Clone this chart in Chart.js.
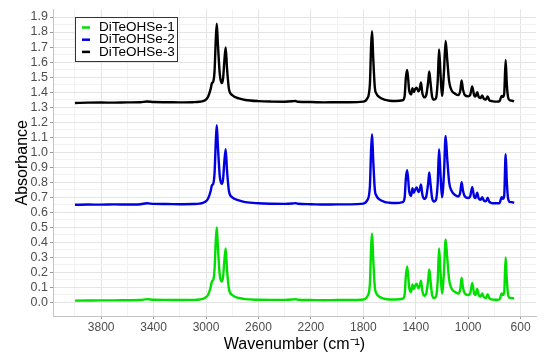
<!DOCTYPE html>
<html>
<head>
<meta charset="utf-8">
<script src="https://cdn.jsdelivr.net/npm/chart.js@4"></script>
<style>
  html, body { margin: 0; padding: 0; background: #fff; }
  canvas { display: block; }
</style>
</head>
<body>
<canvas id="myChart" width="550" height="361"></canvas>
<script>
// wavenumber grid (cm-1)
const wavenumbers = [
    4000, 3900, 3800, 3700, 3600, 3500, 3450, 3400, 3300, 3200,
    3100, 3050, 3010, 2985, 2965, 2955, 2945, 2935, 2925, 2918,
    2910, 2895, 2880, 2870, 2860, 2850, 2840, 2825, 2800, 2750,
    2700, 2600, 2500, 2400, 2340, 2320, 2300, 2200, 2100, 2000,
    1900, 1800, 1770, 1750, 1740, 1733, 1725, 1712, 1700, 1680,
    1640, 1600, 1550, 1500, 1485, 1475, 1465, 1450, 1435, 1425,
    1415, 1405, 1393, 1380, 1370, 1360, 1350, 1335, 1320, 1305,
    1297, 1288, 1275, 1260, 1245, 1232, 1222, 1212, 1200, 1185,
    1172, 1160, 1145, 1125, 1100, 1075, 1060, 1050, 1040, 1025,
    1000, 985, 969, 955, 945, 931, 920, 905, 893, 880,
    865, 851, 840, 820, 800, 780, 760, 745, 735, 725,
    714, 705, 695, 680, 665, 650
];

const seriesNames = ['DiTeOHSe-1', 'DiTeOHSe-2', 'DiTeOHSe-3'];

const absorbance1 = [
    .012, .013, .014, .014, .015, .016, .022, .018, .017, .016,
    .017, .020, .030, .050, .100, .140, .150, .220, .420, .500,
    .380, .180, .140, .170, .280, .360, .220, .090, .050, .030,
    .022, .018, .017, .017, .020, .022, .018, .016, .015, .016,
    .016, .020, .040, .120, .380, .460, .300, .100, .060, .040,
    .025, .020, .020, .025, .050, .180, .240, .100, .070, .120,
    .090, .110, .125, .095, .110, .145, .080, .045, .060, .150,
    .220, .150, .050, .030, .040, .150, .360, .220, .060, .200,
    .420, .300, .150, .090, .070, .060, .090, .165, .100, .060,
    .050, .060, .130, .060, .050, .090, .050, .040, .060, .035,
    .030, .055, .030, .020, .018, .018, .020, .060, .050, .070,
    .300, .150, .050, .030, .030, .025
];

const absorbance2 = [
    .650, .652, .651, .653, .652, .654, .660, .656, .655, .654,
    .655, .658, .668, .690, .740, .780, .790, .860, 1.080, 1.180,
    1.050, .840, .790, .820, .940, 1.020, .880, .740, .700, .680,
    .668, .660, .657, .656, .659, .661, .657, .654, .652, .653,
    .653, .658, .680, .770, 1.030, 1.120, .960, .750, .710, .688,
    .670, .664, .662, .668, .695, .830, .880, .740, .710, .760,
    .730, .750, .765, .735, .750, .785, .720, .690, .705, .795,
    .866, .795, .695, .672, .685, .800, 1.020, .870, .700, .850,
    1.108, .960, .800, .740, .715, .705, .735, .800, .745, .705,
    .695, .705, .767, .705, .695, .730, .693, .684, .700, .678,
    .673, .697, .672, .662, .660, .660, .662, .700, .690, .712,
    .987, .800, .690, .668, .668, .662
];

const absorbance3 = [
    1.328, 1.330, 1.331, 1.330, 1.332, 1.333, 1.338, 1.334, 1.333, 1.332,
    1.333, 1.336, 1.345, 1.368, 1.420, 1.460, 1.470, 1.540, 1.760, 1.855,
    1.730, 1.520, 1.460, 1.490, 1.610, 1.697, 1.560, 1.420, 1.380, 1.358,
    1.348, 1.340, 1.337, 1.336, 1.339, 1.341, 1.336, 1.334, 1.332, 1.333,
    1.333, 1.337, 1.358, 1.450, 1.720, 1.805, 1.640, 1.430, 1.390, 1.368,
    1.350, 1.343, 1.341, 1.346, 1.372, 1.500, 1.548, 1.410, 1.385, 1.427,
    1.400, 1.420, 1.430, 1.405, 1.420, 1.464, 1.395, 1.365, 1.380, 1.470,
    1.537, 1.470, 1.370, 1.350, 1.360, 1.480, 1.684, 1.540, 1.375, 1.530,
    1.741, 1.620, 1.470, 1.410, 1.390, 1.380, 1.410, 1.478, 1.420, 1.380,
    1.372, 1.380, 1.438, 1.380, 1.370, 1.400, 1.368, 1.360, 1.378, 1.355,
    1.350, 1.372, 1.348, 1.340, 1.337, 1.337, 1.340, 1.375, 1.368, 1.390,
    1.614, 1.450, 1.365, 1.345, 1.343, 1.338
];

// gridlines: majors get labels, minors are lighter
const xGridValues = [600, 800, 1000, 1200, 1400, 1600, 1800, 2000, 2200, 2400,
    2600, 2800, 3000, 3200, 3400, 3600, 3800, 4000];
const xLabelValues = [600, 1000, 1400, 1800, 2200, 2600, 3000, 3400, 3800];
const yGridValues = [0, 0.05, 0.1, 0.15, 0.2, 0.25, 0.3, 0.35, 0.4, 0.45, 0.5, 0.55,
    0.6, 0.65, 0.7, 0.75, 0.8, 0.85, 0.9, 0.95, 1.0, 1.05, 1.1, 1.15, 1.2, 1.25,
    1.3, 1.35, 1.4, 1.45, 1.5, 1.55, 1.6, 1.65, 1.7, 1.75, 1.8, 1.85, 1.9];

const colors = ['#00e000', '#0000e0', '#000000'];

Chart.defaults.font.family = '"Liberation Sans", Arial, sans-serif';

const toPoints = arr => wavenumbers.map((w, i) => ({ x: w, y: arr[i] }));

const isMajorY = v => Math.abs(Math.round(v * 10) - v * 10) < 1e-6;
const isMajorX = v => xLabelValues.includes(v);

// legend inside the panel, top-left
const insideLegend = {
    id: 'insideLegend',
    afterDatasetsDraw(chart) {
        const c = chart.ctx;
        const bx = 75.5, by = 17.5, bw = 102, bh = 44;
        c.save();
        c.fillStyle = '#fff';
        c.fillRect(bx, by, bw, bh);
        c.strokeStyle = '#333';
        c.lineWidth = 1;
        c.strokeRect(bx, by, bw, bh);
        c.font = '13.5px "Liberation Sans", Arial, sans-serif';
        c.textBaseline = 'middle';
        chart.data.datasets.forEach((ds, i) => {
            const y = 27.5 + i * 12.2;
            c.strokeStyle = ds.borderColor;
            c.lineWidth = 2.5;
            c.beginPath();
            c.moveTo(82, y);
            c.lineTo(90, y);
            c.stroke();
            c.fillStyle = '#000';
            c.fillText(ds.label, 99, y);
        });
        c.restore();
    }
};

const ctx = document.getElementById('myChart');

new Chart(ctx, {
    type: 'line',
    data: {
        datasets: [absorbance1, absorbance2, absorbance3].map((arr, i) => ({
            label: seriesNames[i],
            data: toPoints(arr),
            borderColor: colors[i],
            backgroundColor: colors[i],
            borderWidth: 2.4,
            pointRadius: 0,
            cubicInterpolationMode: 'monotone',
            fill: false
        }))
    },
    options: {
        responsive: false,
        animation: false,
        devicePixelRatio: 1,
        layout: { padding: { top: 8, right: 14, left: 0, bottom: 0 } },
        plugins: {
            legend: { display: false },
            tooltip: { enabled: false }
        },
        scales: {
            x: {
                type: 'linear',
                reverse: true,
                min: 482.5,
                max: 4167.5,
                afterBuildTicks: scale => {
                    scale.ticks = xGridValues.map(v => ({ value: v }));
                },
                afterFit: scale => { scale.height = 45; },
                ticks: {
                    autoSkip: false,
                    maxRotation: 0,
                    padding: 1,
                    color: '#4d4d4d',
                    font: { size: 12 },
                    callback: v => isMajorX(v) ? String(v) : ''
                },
                grid: {
                    color: c => isMajorX(c.tick.value) ? '#e4e4e4' : '#f2f2f2',
                    tickColor: c => isMajorX(c.tick.value) ? '#999' : 'rgba(0,0,0,0)',
                    tickLength: 3,
                    lineWidth: 1
                },
                border: { display: true, color: '#c4c4c4' },
                title: {
                    display: true,
                    text: 'Wavenumber (cm⁻¹)',
                    color: '#000',
                    font: { size: 16 },
                    padding: { top: 0, bottom: 7 }
                }
            },
            y: {
                min: -0.09,
                max: 1.95,
                afterBuildTicks: scale => {
                    scale.ticks = yGridValues.map(v => ({ value: v }));
                },
                afterFit: scale => { scale.width = 53; },
                ticks: {
                    autoSkip: false,
                    padding: 2,
                    color: '#4d4d4d',
                    font: { size: 12.5 },
                    callback: v => isMajorY(v) ? v.toFixed(1) : ''
                },
                grid: {
                    color: c => isMajorY(c.tick.value) ? '#e4e4e4' : '#f2f2f2',
                    tickColor: c => isMajorY(c.tick.value) ? '#999' : 'rgba(0,0,0,0)',
                    tickLength: 3,
                    lineWidth: 1
                },
                border: { display: true, color: '#c4c4c4' },
                title: {
                    display: true,
                    text: 'Absorbance',
                    color: '#000',
                    font: { size: 16 },
                    padding: { top: 13, bottom: 0 }
                }
            }
        }
    },
    plugins: [insideLegend]
});
</script>
</body>
</html>
